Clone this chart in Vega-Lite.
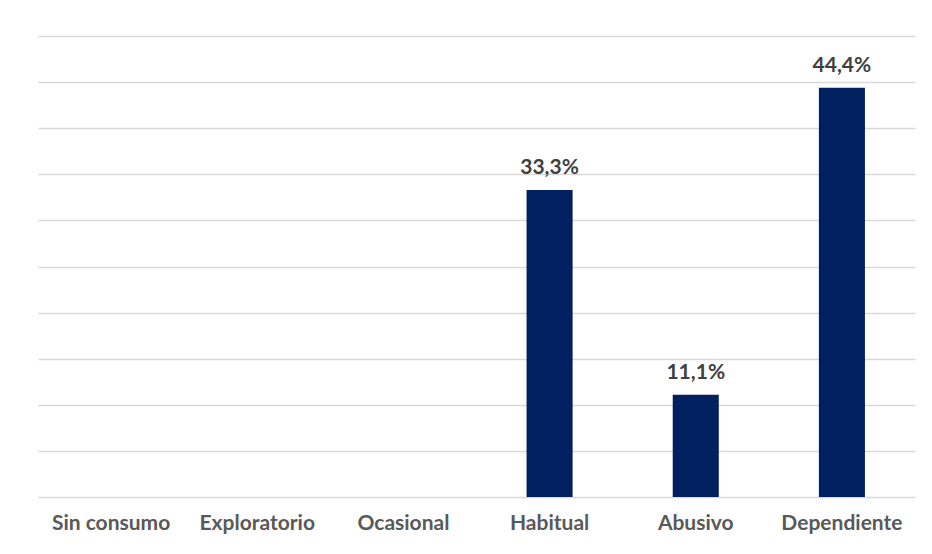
{
  "$schema": "https://vega.github.io/schema/vega-lite/v6.json",
  "width": 877,
  "height": 461,
  "autosize": {"type": "none"},
  "padding": {"left": 38, "top": 36, "right": 17, "bottom": 57},
  "background": "white",
  "config": {
    "view": {"stroke": null},
    "locale": {"number": {"decimal": ",", "thousands": ".", "grouping": [3], "currency": ["", " €"]}},
    "font": "Lato"
  },
  "data": {
    "values": [
      {"categoria": "Sin consumo", "valor": 0},
      {"categoria": "Exploratorio", "valor": 0},
      {"categoria": "Ocasional", "valor": 0},
      {"categoria": "Habitual", "valor": 0.333},
      {"categoria": "Abusivo", "valor": 0.111},
      {"categoria": "Dependiente", "valor": 0.444}
    ]
  },
  "encoding": {
    "x": {
      "field": "categoria",
      "type": "nominal",
      "sort": null,
      "scale": {"paddingInner": 0.685, "paddingOuter": 0.3425},
      "axis": {
        "title": null,
        "labelAngle": 0,
        "ticks": false,
        "domain": false,
        "labelFont": "Lato",
        "labelFontWeight": "bold",
        "labelFontSize": 21,
        "labelColor": "#595959",
        "labelPadding": 15
      }
    },
    "y": {
      "field": "valor",
      "type": "quantitative",
      "scale": {"domain": [0, 0.5], "nice": false},
      "axis": {
        "title": null,
        "labels": false,
        "ticks": false,
        "domain": false,
        "values": [0, 0.05, 0.1, 0.15, 0.2, 0.25, 0.3, 0.35, 0.4, 0.45, 0.5],
        "gridColor": "#d9d9d9",
        "gridWidth": 1.3
      }
    }
  },
  "layer": [
    {"mark": {"type": "bar", "color": "#002060"}},
    {
      "transform": [{"filter": "datum.valor > 0"}],
      "mark": {"type": "text", "baseline": "alphabetic", "dy": -16, "font": "Lato", "fontWeight": "bold", "fontSize": 21, "color": "#404040"},
      "encoding": {"text": {"field": "valor", "type": "quantitative", "format": ".1%"}}
    }
  ]
}
